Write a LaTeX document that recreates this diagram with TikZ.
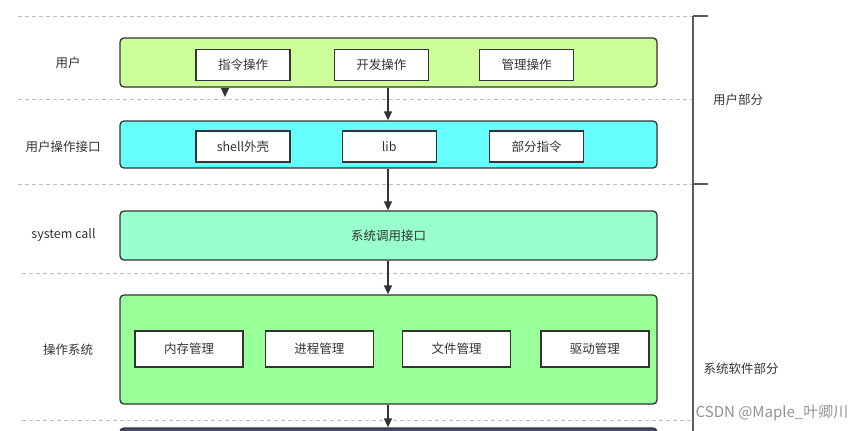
\documentclass[tikz,border=0pt]{standalone}
\usepackage{fontspec}
\setmainfont{Noto Sans CJK SC}
\usepackage{tikz}
\usetikzlibrary{arrows.meta, positioning}
\definecolor{lyruser}{RGB}{204,255,153}
\definecolor{lyrapi}{RGB}{102,255,255}
\definecolor{lyrcall}{RGB}{153,255,204}
\definecolor{lyros}{RGB}{153,255,153}
\definecolor{lyrdark}{RGB}{72,72,110}
\definecolor{edgegray}{RGB}{51,51,51}
\definecolor{txtgray}{RGB}{51,51,51}
\definecolor{dashgray}{RGB}{190,190,190}
\tikzset{
  %% ---- boxes ----
  layer/.style  = {rectangle, rounded corners=4pt,
                   draw=edgegray, line width=1.3pt,
                   minimum width=537pt, minimum height=#1},
  layer/.default = 49pt,
  item/.style   = {rectangle, draw=edgegray, line width=1.3pt,
                   fill=white, minimum width=94pt, minimum height=31pt,
                   font=\fontsize{12.5}{14}\selectfont, text=txtgray},
  opitem/.style = {item, minimum width=108pt, minimum height=36pt},
  side/.style   = {font=\fontsize{12.5}{14}\selectfont, text=txtgray},
  %% ---- lines ----
  arr/.style    = {-{Triangle[length=9pt, width=8pt]}, line width=1.3pt, color=edgegray},
  sep/.style    = {dashgray, line width=0.9pt, dash pattern=on 4pt off 3pt},
  brace/.style  = {edgegray!80, line width=1.6pt},
}
\begin{document}
\begin{tikzpicture}[x=1pt, y=-1pt]
\clip (0,0) rectangle (865,431);
\fill[white] (0,0) rectangle (865,431);
% separators
\foreach \yy/\xs in {16/18, 99/18, 184/18, 273/22, 420/22}
  \draw[sep] (\xs,\yy) -- (692,\yy);
% layers
\node[layer, fill=lyruser]          (user) at (388.5,62.5)  {};
\node[layer=47pt, fill=lyrapi]      (api)  at (388.5,144.5) {};
\node[layer, fill=lyrcall, side]    (call) at (388.5,235.5) {系统调用接口};
\node[layer=109pt, fill=lyros]      (os)   at (388.5,349.5) {};
\node[layer=60pt, fill=lyrdark]     (hw)   at (388.5,458)   {};
% user operations
\node[item]                  (cmd)  at (243,65) {指令操作};
\node[item, right=43pt of cmd] (dev)  {开发操作};
\node[item, right=50pt of dev] (mgmt) {管理操作};
% user interface
\node[item]                   (shell) at (243,146.5) {shell外壳};
\node[item, right=51pt of shell] (lib)  {lib};
\node[item, right=52pt of lib]   (part) {部分指令};
% os modules
\node[opitem]                    (mem)  at (189,349) {内存管理};
\node[opitem, right=21pt of mem]  (proc) {进程管理};
\node[opitem, right=28pt of proc] (file) {文件管理};
\node[opitem, right=29pt of file] (drv)  {驱动管理};
% row labels
\node[side] (lbluser) at (68,63)   {用户};
\node[side] (lblapi)  at (63,147)  {用户操作接口};
\node[side] (lblcall) at (63.5,235) {system call};
\node[side] (lblos)   at (68,350)  {操作系统};
% arrows
\coordinate (stub) at (225,97);
\draw[arr] (user.south -| stub) -- (stub);
\draw[arr] (user.south -| 388,0) -- (api.north -| 388,0);
\draw[arr] (api.south -| 388,0)  -- (call.north -| 388,0);
\draw[arr] (call.south -| 388,0) -- (os.north -| 388,0);
\draw[arr] (os.south -| 388,0)   -- (hw.north -| 388,0);
% bracket
\coordinate (btop) at (693,16);
\coordinate (bmid) at (693,184);
\coordinate (bbot) at (693,440);
\draw[brace] (btop) -- (bbot);
\draw[brace] (btop) -- ++(15,0);
\draw[brace] (bmid) -- ++(15,0);
\node[side] (usrpart) at (738,100) {用户部分};
\node[side] (syspart) at (741,369) {系统软件部分};
\node[font=\fontsize{15}{17}\selectfont, text=gray!85] (mark) at (772,413) {CSDN @Maple\_叶卿川};
\end{tikzpicture}
\end{document}
